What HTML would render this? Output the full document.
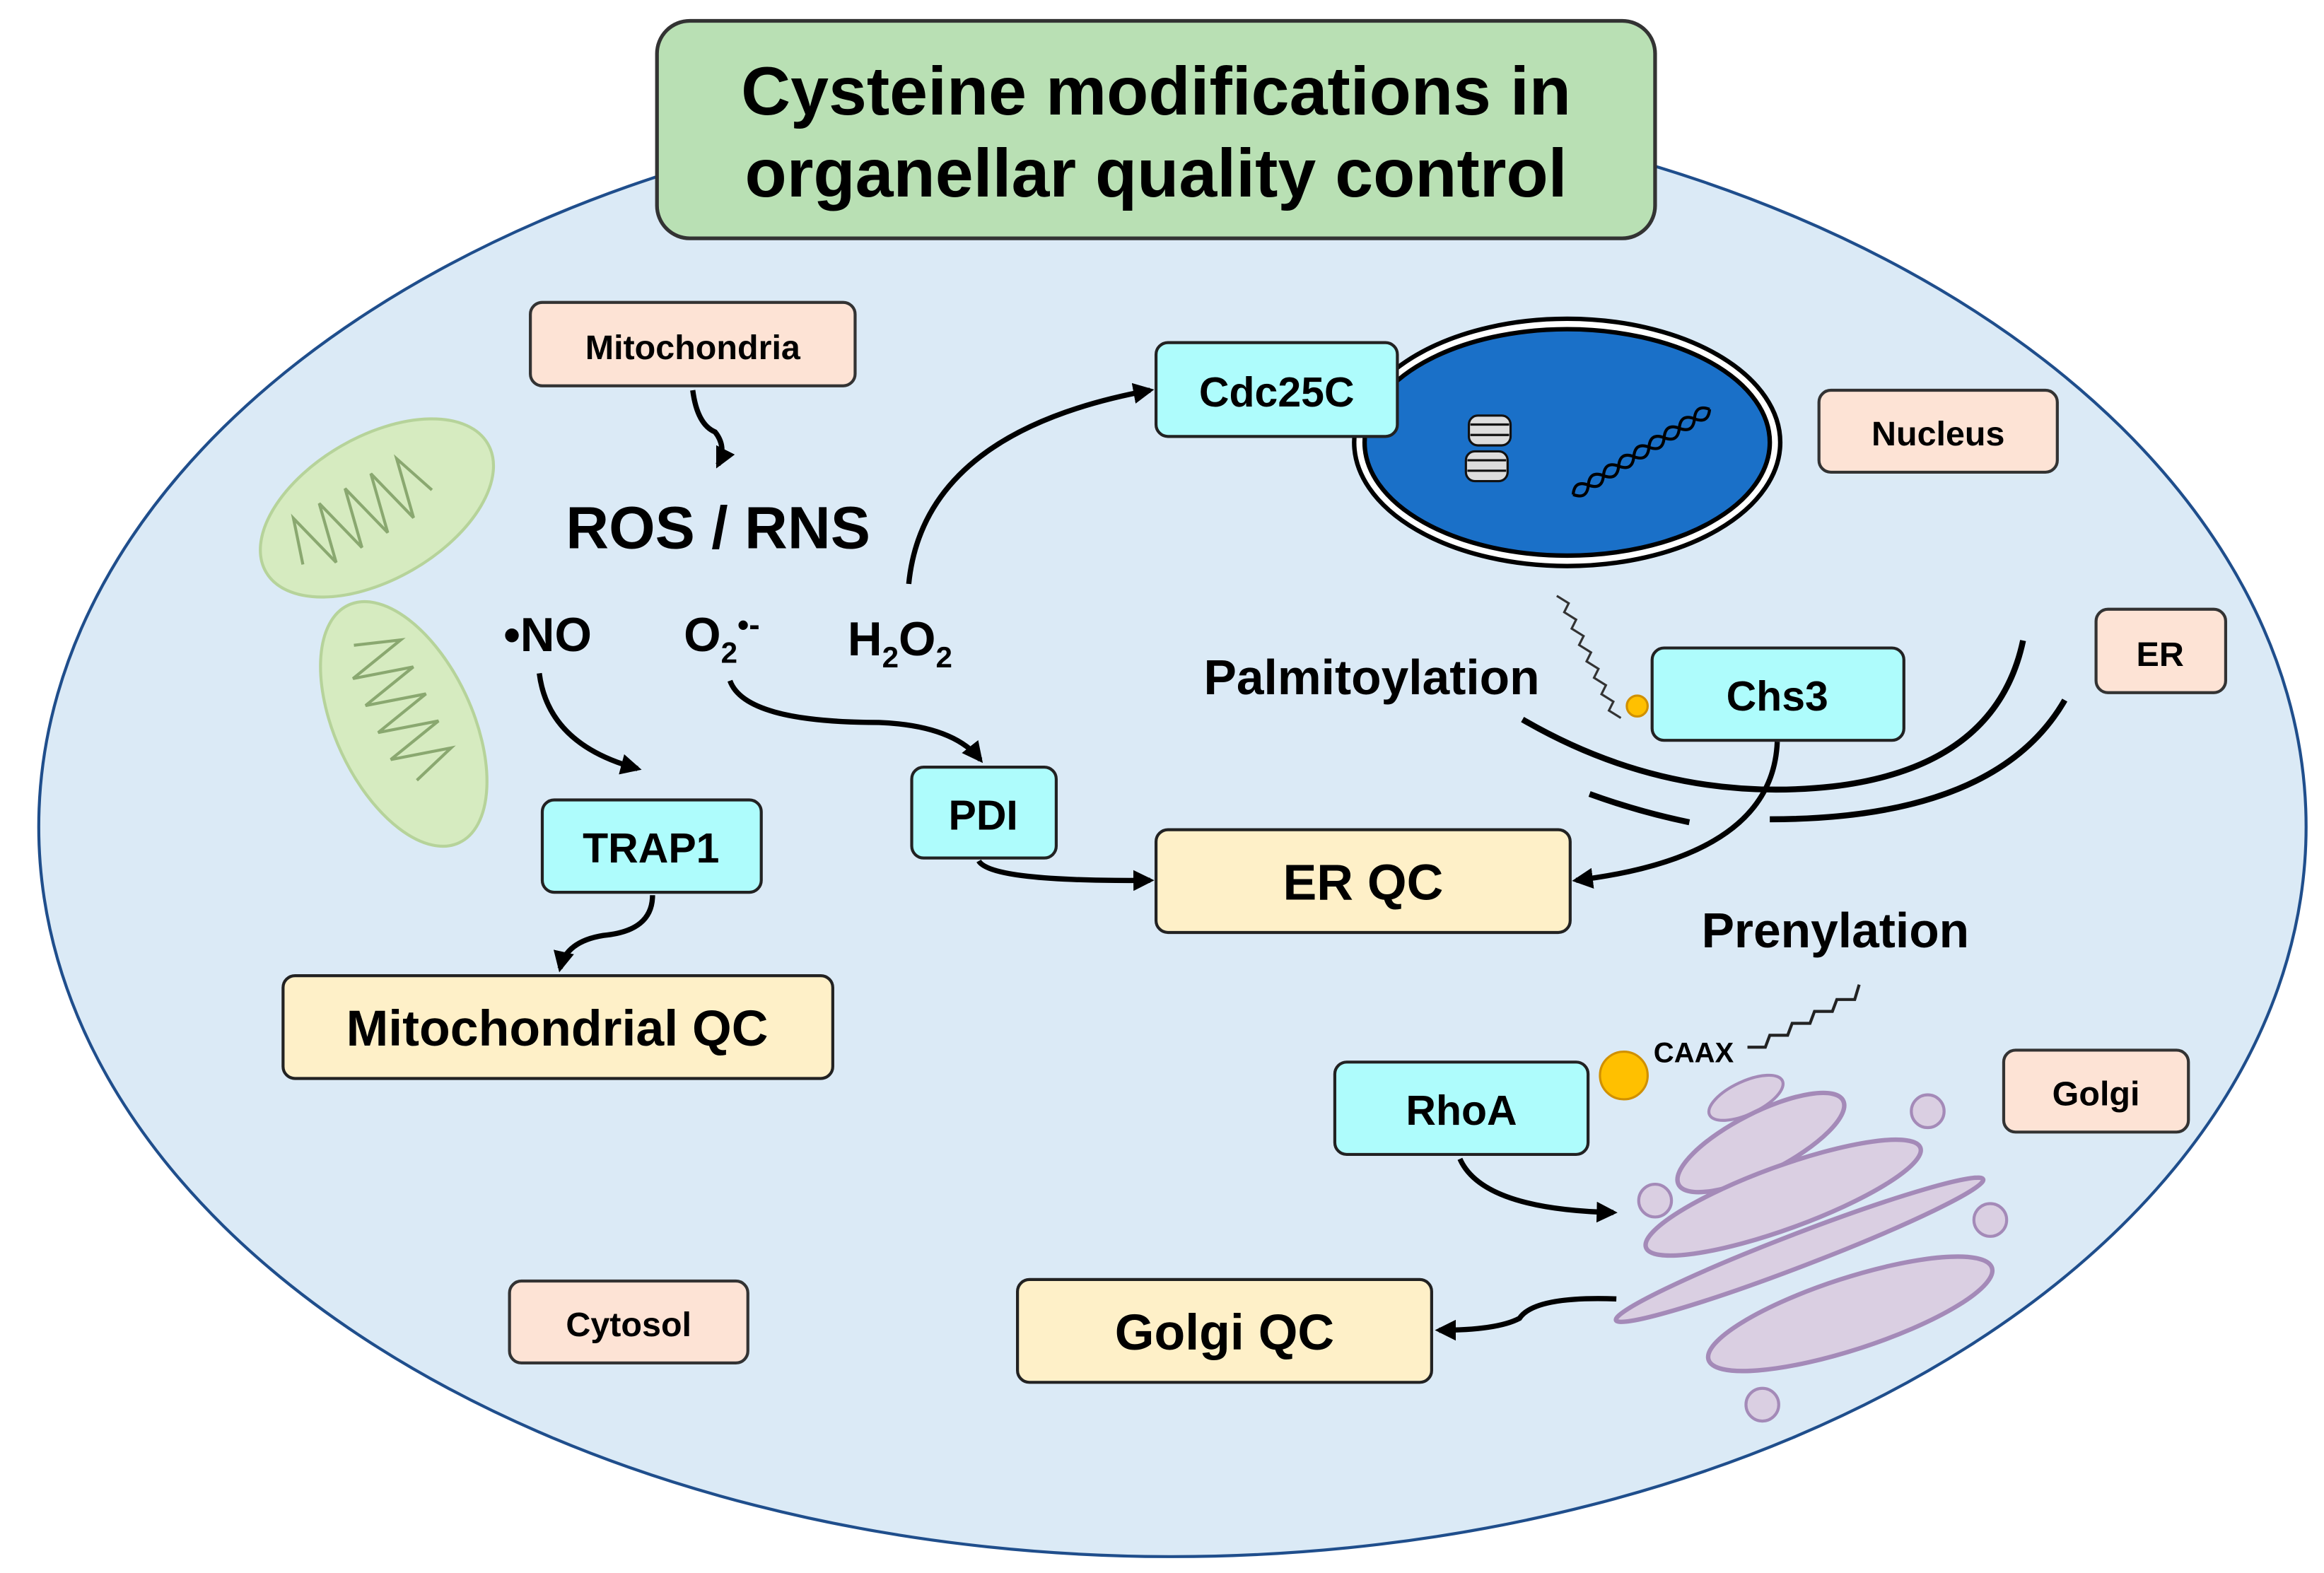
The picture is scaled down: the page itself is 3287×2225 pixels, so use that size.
<!DOCTYPE html>
<html><head><meta charset="utf-8"><style>
html,body{margin:0;padding:0;background:#fff;}
svg{display:block;}
text{font-family:"Liberation Sans",sans-serif;font-weight:bold;fill:#000;}
</style></head><body>
<svg width="3287" height="2225" viewBox="0 0 1560 1056" xmlns="http://www.w3.org/2000/svg">
<defs>
<marker id="ah" viewBox="0 0 10 10" refX="8" refY="5" markerWidth="4" markerHeight="4" orient="auto"><path d="M0,0 L10,5 L0,10 z" fill="#000"/></marker>
</defs>
<ellipse cx="787" cy="555" rx="761" ry="490" fill="#dbeaf6" stroke="#1f4e8c" stroke-width="2"/>
<rect x="441" y="14" width="670" height="146" rx="22" fill="#b9e0b4" stroke="#333" stroke-width="2.5"/>
<text x="776" y="77" font-size="46" text-anchor="middle">Cysteine modifications in</text>
<text x="776" y="132" font-size="46" text-anchor="middle">organellar quality control</text>

<g transform="translate(253,341) rotate(-30)"><ellipse rx="86" ry="48" fill="#d6ebc0" stroke="#b6d39a" stroke-width="2"/>
<path d="M-62,8 l10,-30 l10,40 l10,-40 l10,40 l10,-40 l10,40 l10,-40 l10,40 l10,-40 l10,30" fill="none" stroke="#8aa870" stroke-width="2"/></g>
<g transform="translate(271,486) rotate(65)"><ellipse rx="88" ry="46" fill="#d6ebc0" stroke="#b6d39a" stroke-width="2"/>
<path d="M-62,8 l10,-30 l10,40 l10,-40 l10,40 l10,-40 l10,40 l10,-40 l10,40 l10,-40 l10,30" fill="none" stroke="#8aa870" stroke-width="2"/></g>

<ellipse cx="1052" cy="297" rx="143" ry="83" fill="#fff" stroke="#000" stroke-width="3"/>
<ellipse cx="1052" cy="297" rx="136" ry="76" fill="#1a70c8" stroke="#000" stroke-width="3"/>
<g stroke="#111" stroke-width="1.5">
<rect x="986" y="279" width="28" height="20" rx="6" fill="#ddd"/>
<line x1="987" y1="285" x2="1013" y2="285"/><line x1="987" y1="292" x2="1013" y2="292"/>
<rect x="984" y="303" width="28" height="20" rx="6" fill="#ddd"/>
<line x1="985" y1="309" x2="1011" y2="309"/><line x1="985" y1="316" x2="1011" y2="316"/>
</g>
<g transform="translate(1056,332) rotate(-32)" fill="none" stroke="#000" stroke-width="2">
<path d="M0,0 q6,-8 12,0 t12,0 t12,0 t12,0 t12,0 t12,0 t12,0 t12,0 t12,0"/>
<path d="M0,0 q6,8 12,0 t12,0 t12,0 t12,0 t12,0 t12,0 t12,0 t12,0 t12,0"/>
</g>

<g stroke="#333" stroke-width="2" fill="#fde3d5">
<rect x="356" y="203" width="218" height="56" rx="8"/>
<rect x="1221" y="262" width="160" height="55" rx="8"/>
<rect x="1407" y="409" width="87" height="56" rx="8"/>
<rect x="1345" y="705" width="124" height="55" rx="8"/>
<rect x="342" y="860" width="160" height="55" rx="8"/>
</g>
<text x="465" y="241" font-size="23" text-anchor="middle">Mitochondria</text>
<text x="1301" y="299" font-size="23" text-anchor="middle">Nucleus</text>
<text x="1450" y="447" font-size="23" text-anchor="middle">ER</text>
<text x="1407" y="742" font-size="23" text-anchor="middle">Golgi</text>
<text x="422" y="897" font-size="23" text-anchor="middle">Cytosol</text>

<g stroke="#222" stroke-width="2" fill="#aefcfc">
<rect x="776" y="230" width="162" height="63" rx="8"/>
<rect x="1109" y="435" width="169" height="62" rx="8"/>
<rect x="364" y="537" width="147" height="62" rx="8"/>
<rect x="612" y="515" width="97" height="61" rx="8"/>
<rect x="896" y="713" width="170" height="62" rx="8"/>
</g>
<text x="857" y="273" font-size="28" text-anchor="middle">Cdc25C</text>
<text x="1193" y="477" font-size="28" text-anchor="middle">Chs3</text>
<text x="437" y="579" font-size="28" text-anchor="middle">TRAP1</text>
<text x="660" y="557" font-size="28" text-anchor="middle">PDI</text>
<text x="981" y="755" font-size="28" text-anchor="middle">RhoA</text>

<g stroke="#222" stroke-width="2" fill="#fef0c8">
<rect x="776" y="557" width="278" height="69" rx="8"/>
<rect x="190" y="655" width="369" height="69" rx="8"/>
<rect x="683" y="859" width="278" height="69" rx="8"/>
</g>
<text x="915" y="604" font-size="34" text-anchor="middle">ER QC</text>
<text x="374" y="702" font-size="34" text-anchor="middle">Mitochondrial QC</text>
<text x="822" y="906" font-size="34" text-anchor="middle">Golgi QC</text>

<text x="482" y="368" font-size="40" text-anchor="middle">ROS / RNS</text>
<text x="338" y="437" font-size="32">•NO</text>
<text x="459" y="437" font-size="32">O<tspan font-size="20" dy="8">2</tspan><tspan dy="-18" font-size="22">•-</tspan></text>
<text x="569" y="440" font-size="32">H<tspan font-size="20" dy="8">2</tspan><tspan dy="-8">O</tspan><tspan font-size="20" dy="8">2</tspan></text>
<text x="808" y="466" font-size="33">Palmitoylation</text>
<text x="1232" y="636" font-size="33" text-anchor="middle">Prenylation</text>
<text x="1110" y="713" font-size="19">CAAX</text>

<g fill="none" stroke="#000" stroke-width="4">
<path d="M1022,483 Q1120,540 1230,528 Q1340,515 1358,430"/>
<path d="M1067,533 Q1100,545 1134,552"/>
<path d="M1188,550 Q1340,550 1386,470"/>
</g>
<path d="M1045,400 l8,5 l-3,6 l8,5 l-3,6 l8,5 l-3,6 l8,5 l-3,6 l8,5 l-3,6 l8,5 l-3,6 l8,5 l-3,6 l8,5" fill="none" stroke="#333" stroke-width="1.5"/>
<circle cx="1099" cy="474" r="7" fill="#ffc000" stroke="#d09000" stroke-width="1.5"/>
<circle cx="1090" cy="722" r="16" fill="#ffc000" stroke="#d09000" stroke-width="1.5"/>
<path d="M1173,703 l12,0 l3,-8 l12,0 l3,-8 l12,0 l3,-8 l12,0 l3,-8 l12,0 l3,-10" fill="none" stroke="#222" stroke-width="2"/>

<g fill="#dacfe2" stroke="#a48ab8" stroke-width="3">
<ellipse cx="1172" cy="737" rx="27" ry="11" transform="rotate(-25 1172 737)" stroke-width="2"/>
<ellipse cx="1182" cy="767" rx="62" ry="20" transform="rotate(-27 1182 767)"/>
<ellipse cx="1197" cy="804" rx="98" ry="21" transform="rotate(-20 1197 804)"/>
<ellipse cx="1208" cy="839" rx="132" ry="11" transform="rotate(-21 1208 839)"/>
<ellipse cx="1242" cy="882" rx="100" ry="24" transform="rotate(-18 1242 882)"/>
<circle cx="1111" cy="806" r="11" stroke-width="2"/>
<circle cx="1336" cy="819" r="11" stroke-width="2"/>
<circle cx="1183" cy="943" r="11" stroke-width="2"/>
<circle cx="1294" cy="746" r="11" stroke-width="2"/>
</g>

<g fill="none" stroke="#000" stroke-width="3.5" marker-end="url(#ah)">
<path d="M465,262 Q468,285 480,290 Q488,300 482,312"/>
<path d="M610,392 Q620,290 772,262"/>
<path d="M362,452 Q368,500 428,516"/>
<path d="M490,457 Q500,485 590,485 Q640,487 658,510"/>
<path d="M438,601 Q438,625 405,628 Q380,632 376,650"/>
<path d="M657,578 Q665,592 772,591"/>
<path d="M1193,498 Q1190,575 1058,591"/>
<path d="M980,778 Q995,812 1083,814"/>
<path d="M1085,872 Q1030,870 1020,885 Q1005,893 966,893"/>
</g>
</svg>
</body></html>
